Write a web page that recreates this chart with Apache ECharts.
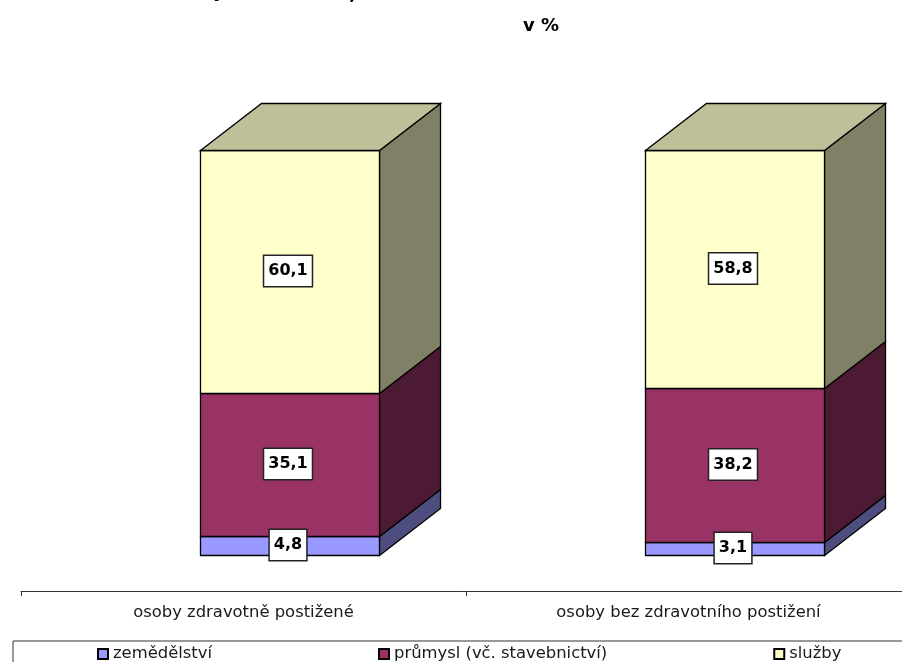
<!DOCTYPE html>
<html><head><meta charset="utf-8">
<style>html,body{margin:0;padding:0;background:#fff;overflow:hidden}#c{width:902px;height:662px}</style>
<script src="https://cdn.jsdelivr.net/npm/echarts@6/dist/echarts.min.js"></script>
</head><body><div id="c"></div>
<script>
const categories = ['osoby zdravotně postižené', 'osoby bez zdravotního postižení'];
const seriesNames = ['zemědělství', 'průmysl (vč. stavebnictví)', 'služby'];
const zemedelstvi = [4.8, 3.1];
const prumysl = [35.1, 38.2];
const sluzby = [60.1, 58.8];
const unitLabel = 'v %';
const clippedTitleGlyphs = ['p', ','];
const fmt = v => v.toFixed(1).replace('.', ',');

const FONT = '"DejaVu Sans", Verdana, sans-serif';
const faces = [
  {front:'#9999FF', side:'#4D4D80', top:'#7373BF'},
  {front:'#993366', side:'#4D1A33', top:'#732650'},
  {front:'#FFFFCC', side:'#808066', top:'#BFBF99'}
];
const DX = 61, DY = 47, RATIO = 178/445.5;
const EDGE = {stroke:'#000', lineWidth:1.3};

function makeRender(idx){
  return function(params, api){
    const cat = api.value(0), lo = api.value(1), hi = api.value(2);
    const size = api.size([1,0])[0]*RATIO;
    const b = api.coord([cat, lo]), t = api.coord([cat, hi]);
    const x0 = Math.round(b[0]-size/2)+.5, x1 = Math.round(x0+size)+.5;
    const y0 = Math.round(b[1])+.5, y1 = Math.round(t[1])+.5;
    const kids = [
      {type:'polygon', shape:{points:[[x1,y0],[x1+DX,y0-DY],[x1+DX,y1-DY],[x1,y1]]},
       style:Object.assign({fill:faces[idx].side},EDGE)},
      {type:'rect', shape:{x:x0,y:y1,width:x1-x0,height:y0-y1},
       style:Object.assign({fill:faces[idx].front},EDGE)}
    ];
    if(idx===2) kids.push({type:'polygon', shape:{points:[[x0,y1],[x0+DX,y1-DY],[x1+DX,y1-DY],[x1,y1]]},
       style:Object.assign({fill:faces[idx].top},EDGE)});
    kids.push({type:'text', z2:100, style:{
      text:fmt(hi-lo), x:(x0+x1)/2-2, y:(y0+y1)/2-1, align:'center', verticalAlign:'middle',
      font:'bold 16px '+FONT, fill:'#000', backgroundColor:'#fff', borderColor:'#222', borderWidth:1.5,
      padding:[7,4,7,4]}});
    return {type:'group', children:kids};
  };
}
const stacks = [zemedelstvi, prumysl, sluzby];
const series = stacks.map((vals,i)=>({
  name:seriesNames[i], type:'custom', xAxisIndex:0, yAxisIndex:0, clip:false,
  renderItem:makeRender(i),
  encode:{x:0,y:[1,2]},
  itemStyle:{color:faces[i].front,borderColor:'#000',borderWidth:1},
  data:vals.map((v,k)=>{
    let base=0; for(let j=0;j<i;j++) base+=stacks[j][k];
    return [k,base,base+v];
  })
}));

const chart = echarts.init(document.getElementById('c'),null,{renderer:'canvas'});
chart.setOption({
  animation:false, backgroundColor:'#fff',
  grid:[
    {left:66,top:150,width:891,height:405,outerBoundsMode:'none'},
    {left:21,top:590,width:890,height:1,outerBoundsMode:'none'}
  ],
  xAxis:[
    {type:'category',gridIndex:0,data:categories,show:false},
    {type:'category',gridIndex:1,data:categories,
     axisLine:{lineStyle:{color:'#333',width:1}},
     axisTick:{show:true,length:5,alignWithLabel:false,lineStyle:{color:'#333'}},
     axisLabel:{interval:0,color:'#1a1a1a',fontFamily:FONT,fontSize:16.4,margin:14}}
  ],
  yAxis:[
    {type:'value',gridIndex:0,min:0,max:100,show:false},
    {type:'value',gridIndex:1,show:false}
  ],
  legend:{left:97,top:646,padding:0,itemWidth:10,itemHeight:10,itemGap:166,
    icon:'rect',selectedMode:false,data:seriesNames,
    textStyle:{color:'#1a1a1a',fontFamily:FONT,fontSize:16.4}},
  graphic:[
    {type:'rect',left:12.5,top:640.5,z:-1,shape:{width:1000,height:60},
     style:{fill:'#fff',stroke:'#333',lineWidth:1}},
    {type:'text',left:523,top:17,style:{text:unitLabel,font:'bold 18px '+FONT,fill:'#000'}},
    {type:'text',x:213,y:-8,style:{text:clippedTitleGlyphs[0],font:'bold 21px '+FONT,fill:'#000',verticalAlign:'middle'}},
    {type:'text',x:349,y:-6,style:{text:clippedTitleGlyphs[1],font:'bold 21px '+FONT,fill:'#000',verticalAlign:'middle'}}
  ],
  series
});
</script></body></html>
